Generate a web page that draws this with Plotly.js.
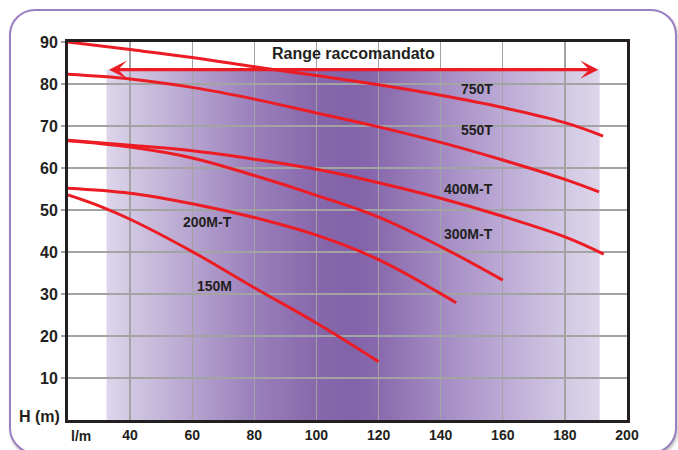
<!DOCTYPE html>
<html><head><meta charset="utf-8">
<script src="https://cdn.plot.ly/plotly-3.0.1.min.js"></script>
<style>
html,body{margin:0;padding:0;background:#fff;width:678px;height:450px;overflow:hidden;}
#card{position:absolute;left:9px;top:9px;width:668px;height:445px;border:2px solid #9b7fc1;border-radius:26px;box-sizing:border-box;background:#fff;box-shadow:1px 2px 3px rgba(0,0,0,0.25);}
#chart{position:absolute;left:0;top:0;width:678px;height:450px;}
</style></head><body>
<div id="card"></div><div id="chart"></div>
<script>
// ---- data ----
const seriesNames = ['750T', '550T', '400M-T', '300M-T', '200M-T', '150M'];
const flow750 = [20, 40, 60, 80, 100, 120, 140, 160, 180, 192.3];
const head750 = [90, 88.2, 86.3, 84.1, 82.0, 79.8, 77.3, 74.4, 70.8, 67.6];
const flow550 = [20, 40, 60, 80, 100, 120, 140, 160, 180, 191];
const head550 = [82.3, 81.2, 79.2, 76.4, 73.1, 69.8, 66.1, 61.9, 57.3, 54.3];
const flow400 = [20, 40, 60, 80, 100, 120, 140, 160, 180, 192.5];
const head400 = [66.6, 65.4, 64.1, 62.1, 59.7, 56.5, 52.8, 48.5, 43.6, 39.5];
const flow300 = [20, 40, 60, 80, 100, 120, 140, 160];
const head300 = [66.5, 65.0, 62.4, 58.2, 53.5, 48.3, 41.3, 33.3];
const flow200 = [20, 40, 60, 80, 100, 120, 140, 145];
const head200 = [55.2, 54.0, 51.5, 48.2, 44.0, 38.2, 30.1, 27.9];
const flow150 = [20, 30, 40, 60, 80, 100, 120];
const head150 = [53.6, 51.0, 47.8, 40.1, 31.5, 23.1, 13.9];

const labelX = [151.7, 151.8, 149.1, 149.1, 64.8, 67.2];
const labelY = [78.9, 69.0, 55.1, 44.4, 47.2, 31.8];

const rangeLabel = 'Range raccomandato';
const rangeFlow = [32.7, 190.8];
const rangeHead = 83.4;
const bandFlow = [32.4, 191.2];
const gradFlow = [32.4, 40, 60, 80, 100, 112, 120, 140, 160, 180, 191.2];
const gradColor = ['#ddd6eb', '#d2c8e3', '#b6a4cf', '#9a80bb', '#8868ac', '#8363a9', '#8a6aae', '#a38bc3', '#bcaad5', '#d2c8e3', '#ddd6eb'];

const xTickVals = [40, 60, 80, 100, 120, 140, 160, 180, 200];
const xTickText = ['40', '60', '80', '100', '120', '140', '160', '180', '200'];
const yTickVals = [10, 20, 30, 40, 50, 60, 70, 80, 90];
const yTickText = ['10', '20', '30', '40', '50', '60', '70', '80', '90'];
const xUnit = 'l/m';
const yUnit = 'H (m)';

// ---- build ----
const RED = '#ec1c24';
const INK = '#231f20';
const FONT = 'Liberation Sans, Arial, sans-serif';

const flows = [flow750, flow550, flow400, flow300, flow200, flow150];
const heads = [head750, head550, head400, head300, head200, head150];
const traces = flows.map((f, i) => ({
  x: f, y: heads[i], name: seriesNames[i], type: 'scatter', mode: 'lines',
  line: {color: RED, width: 3, shape: 'spline', smoothing: 1.1},
  hoverinfo: 'skip', showlegend: false
}));

// gradient band image (horizontal gradient), placed on the axes below the grid
const cv = document.createElement('canvas');
cv.width = 800; cv.height = 4;
const ctx = cv.getContext('2d');
const g = ctx.createLinearGradient(0, 0, cv.width, 0);
const span = bandFlow[1] - bandFlow[0];
gradFlow.forEach((f, i) => g.addColorStop(Math.min(1, Math.max(0, (f - bandFlow[0]) / span)), gradColor[i]));
ctx.fillStyle = g;
ctx.fillRect(0, 0, cv.width, cv.height);
const bandImg = cv.toDataURL('image/png');

const annotations = seriesNames.map((n, i) => ({
  x: labelX[i], y: labelY[i], xref: 'x', yref: 'y', text: n, showarrow: false,
  font: {family: FONT, size: 14, color: INK, weight: 'bold'}
}));
annotations.push({x: 111.9, y: 87.3, xref: 'x', yref: 'y', text: rangeLabel, showarrow: false,
  font: {family: FONT, size: 16, color: INK, weight: 'bold'}});
annotations.push({x: rangeFlow[1], y: rangeHead, ax: rangeFlow[0], ay: rangeHead,
  xref: 'x', yref: 'y', axref: 'x', ayref: 'y', text: '', showarrow: true,
  arrowhead: 3, startarrowhead: 3, arrowside: 'end+start',
  arrowsize: 0.95, startarrowsize: 0.95, arrowwidth: 3.2, arrowcolor: RED});
annotations.push({x: 0, y: 0, xref: 'paper', yref: 'paper', xanchor: 'right', yanchor: 'middle',
  xshift: -6, yshift: 4, text: yUnit, showarrow: false,
  font: {family: FONT, size: 16, color: INK, weight: 'bold'}});
annotations.push({x: 0, y: 0, xref: 'paper', yref: 'paper', xanchor: 'left', yanchor: 'top',
  xshift: 1, yshift: -6, text: xUnit, showarrow: false,
  font: {family: FONT, size: 14, color: INK, weight: 'bold'}});

const layout = {
  width: 678, height: 450,
  margin: {l: 68, r: 51, t: 42, b: 30, pad: 0},
  paper_bgcolor: 'rgba(0,0,0,0)', plot_bgcolor: '#ffffff',
  showlegend: false,
  xaxis: {range: [20, 200], tickvals: xTickVals, ticktext: xTickText,
    showgrid: true, gridcolor: '#a3a3a3', gridwidth: 1.3, zeroline: false,
    showline: true, linecolor: INK, linewidth: 3, mirror: true, ticks: '',
    tickfont: {family: FONT, size: 14, color: INK, weight: 'bold'}, fixedrange: true},
  yaxis: {range: [0, 90], tickvals: yTickVals, ticktext: yTickText,
    showgrid: true, gridcolor: '#a3a3a3', gridwidth: 1.3, zeroline: false,
    showline: true, linecolor: INK, linewidth: 3, mirror: true,
    ticks: 'outside', ticklen: 4, tickcolor: '#a3a3a3', tickwidth: 1.3,
    tickfont: {family: FONT, size: 16, color: INK, weight: 'bold'}, fixedrange: true},
  images: [{source: bandImg, xref: 'x', yref: 'y', x: bandFlow[0], y: rangeHead,
    sizex: span, sizey: rangeHead, sizing: 'stretch', xanchor: 'left', yanchor: 'top',
    layer: 'below', opacity: 1}],
  annotations: annotations
};
Plotly.newPlot('chart', traces, layout, {displayModeBar: false, staticPlot: true});
</script>
</body></html>
